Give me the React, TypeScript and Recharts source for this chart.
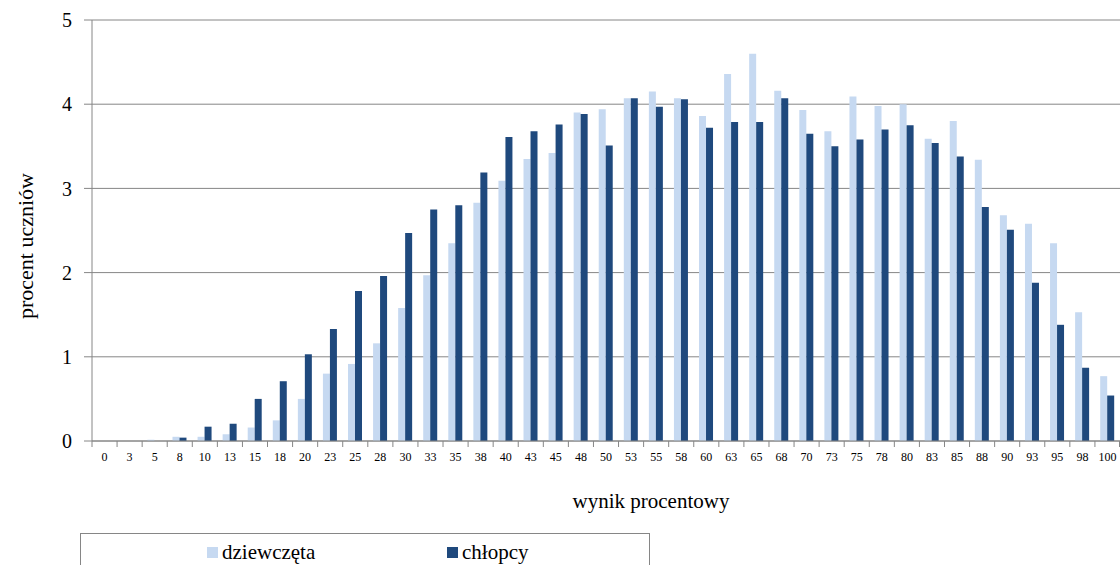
import React from 'react';
import { BarChart, Bar, XAxis, YAxis, CartesianGrid, Legend, Label } from 'recharts';

const categories = ['0','3','5','8','10','13','15','18','20','23','25','28','30','33','35','38','40','43','45','48','50','53','55','58','60','63','65','68','70','73','75','78','80','83','85','88','90','93','95','98','100'];
const girls = [0,0,0.015,0.05,0.05,0.08,0.16,0.245,0.50,0.80,0.915,1.16,1.58,1.97,2.35,2.83,3.09,3.35,3.42,3.90,3.94,4.07,4.15,4.07,3.86,4.36,4.60,4.16,3.93,3.68,4.09,3.98,4.00,3.59,3.80,3.34,2.68,2.58,2.35,1.53,0.77];
const boys = [0,0,0,0.04,0.17,0.205,0.50,0.71,1.03,1.33,1.78,1.96,2.47,2.75,2.80,3.19,3.61,3.68,3.76,3.885,3.51,4.07,3.97,4.06,3.72,3.79,3.79,4.07,3.65,3.50,3.58,3.70,3.75,3.54,3.38,2.78,2.51,1.88,1.38,0.87,0.54];
const yTicks = [0,1,2,3,4,5];
const seriesNames = ['dziewczęta', 'chłopcy'];

const data = categories.map((c, i) => ({ cat: c, girls: girls[i], boys: boys[i] }));

const FONT = '"Liberation Serif", "Times New Roman", serif';
const LIGHT = '#C6D9F1';
const DARK = '#1F497D';
const AXIS = '#868686';

const W = 1120;
const H = 565;
const PLOT_LEFT = 92;
const PLOT_RIGHT = 1120;
const STEP = (PLOT_RIGHT - PLOT_LEFT) / categories.length;

const XTick = (props: any) => {
  const { x, y, payload, index } = props;
  const bx = x - STEP / 2;
  const isLast = index === categories.length - 1;
  return (
    <g>
      <line x1={bx} y1={y} x2={bx} y2={y + 6} stroke={AXIS} strokeWidth={1} />
      {isLast && <line x1={x + STEP / 2 - 0.5} y1={y} x2={x + STEP / 2 - 0.5} y2={y + 6} stroke={AXIS} strokeWidth={1} />}
      <text x={x} y={y + 20} textAnchor="middle" fontFamily={FONT} fontSize={12} fill="#000">{payload.value}</text>
    </g>
  );
};

const renderLegend = () => (
  <div style={{ position: 'relative', width: 570, height: 32, borderTop: `1px solid ${AXIS}`, borderLeft: `1px solid ${AXIS}`, borderRight: `1px solid ${AXIS}`, boxSizing: 'border-box', fontFamily: FONT, fontSize: 21, background: '#fff', overflow: 'hidden' }}>
    <div style={{ position: 'absolute', left: 126, top: 13, width: 11, height: 11, background: LIGHT }} />
    <div style={{ position: 'absolute', left: 141, top: 6, lineHeight: '24px', color: '#000', whiteSpace: 'nowrap' }}>{seriesNames[0]}</div>
    <div style={{ position: 'absolute', left: 366, top: 13, width: 11, height: 11, background: DARK }} />
    <div style={{ position: 'absolute', left: 381, top: 6, lineHeight: '24px', color: '#000', whiteSpace: 'nowrap' }}>{seriesNames[1]}</div>
  </div>
);

export default function App() {
  return (
    <div style={{ position: 'fixed', left: 0, top: 0, width: W, height: H, overflow: 'hidden', background: '#fff' }}>
      <BarChart width={W} height={H} data={data} margin={{ top: 20, right: 0, left: 0, bottom: 94 }} barCategoryGap="21%" barGap={0}>
        <CartesianGrid horizontal={true} vertical={false} stroke={AXIS} strokeWidth={1} />
        <XAxis dataKey="cat" interval={0} tickLine={false} tickSize={0} tickMargin={0} height={30} stroke={AXIS} tick={<XTick />}>
          <Label content={(p: any) => {
            const vb = p.viewBox || { x: 0, y: 0 };
            return <text x={651} y={vb.y + 67} textAnchor="middle" fontFamily={FONT} fontSize={21} fill="#000">wynik procentowy</text>;
          }} />
        </XAxis>
        <YAxis width={92} domain={[0, 5]} ticks={yTicks} tickSize={8} tickMargin={12} stroke={AXIS} tick={{ fontFamily: FONT, fontSize: 20, fill: '#000' }} interval={0}>
          <Label content={() => (
            <text x={25} y={246} transform="rotate(-90 25 246)" textAnchor="middle" dominantBaseline="central" fontFamily={FONT} fontSize={22} fill="#000">procent uczniów</text>
          )} />
        </YAxis>
        <Legend layout="horizontal" verticalAlign="middle" align="center" content={renderLegend} wrapperStyle={{ left: 80, top: 533, width: 570, height: 32 }} />
        <Bar dataKey="girls" name={seriesNames[0]} fill={LIGHT} isAnimationActive={false} />
        <Bar dataKey="boys" name={seriesNames[1]} fill={DARK} isAnimationActive={false} />
      </BarChart>
    </div>
  );
}
